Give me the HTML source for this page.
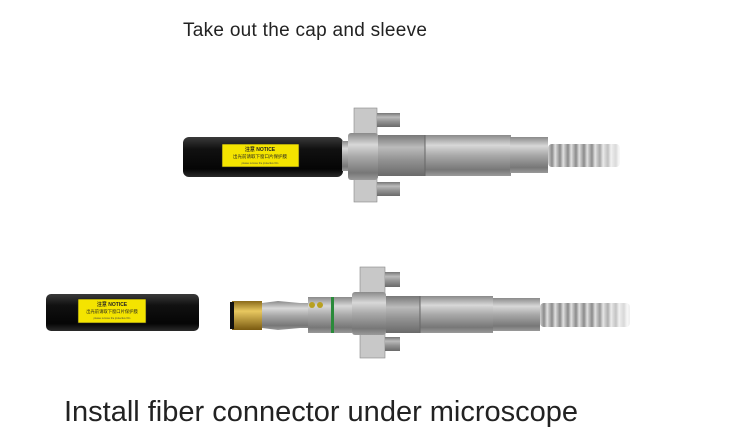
<!DOCTYPE html>
<html><head><meta charset="utf-8"><style>
html,body{margin:0;padding:0;background:#fff;}
svg{display:block;}
text{font-family:"Liberation Sans","Noto Sans CJK SC",sans-serif;}
</style></head><body>
<svg width="735" height="438" viewBox="0 0 735 438">
<defs>
<linearGradient id="blk" x1="0" y1="0" x2="0" y2="1">
<stop offset="0" stop-color="#3a3a3a"/><stop offset="0.3" stop-color="#111"/><stop offset="0.8" stop-color="#050505"/><stop offset="1" stop-color="#2a2a2a"/></linearGradient>
<linearGradient id="met" x1="0" y1="0" x2="0" y2="1">
<stop offset="0" stop-color="#8a8a8a"/><stop offset="0.25" stop-color="#d8d8d8"/><stop offset="0.5" stop-color="#a9a9a9"/><stop offset="0.85" stop-color="#777"/><stop offset="1" stop-color="#9a9a9a"/></linearGradient>
<linearGradient id="met2" x1="0" y1="0" x2="0" y2="1">
<stop offset="0" stop-color="#777"/><stop offset="0.3" stop-color="#bbb"/><stop offset="0.6" stop-color="#939393"/><stop offset="1" stop-color="#6a6a6a"/></linearGradient>
<linearGradient id="gold" x1="0" y1="0" x2="0" y2="1">
<stop offset="0" stop-color="#8a6a1a"/><stop offset="0.35" stop-color="#e8c860"/><stop offset="1" stop-color="#7a5a10"/></linearGradient>
<linearGradient id="coil" x1="0" y1="0" x2="1" y2="0">
<stop offset="0" stop-color="#8a8a8a"/><stop offset="0.4" stop-color="#e0e0e0"/><stop offset="1" stop-color="#8a8a8a"/></linearGradient>
<pattern id="hose" width="8" height="30" patternUnits="userSpaceOnUse">
<rect width="8" height="30" fill="url(#coil)"/></pattern>
<linearGradient id="fade" x1="0" y1="0" x2="1" y2="0">
<stop offset="0.6" stop-color="#fff" stop-opacity="0"/><stop offset="1" stop-color="#fff" stop-opacity="0.8"/></linearGradient>
</defs>

<text x="183" y="36" font-size="19" fill="#222" textLength="244">Take out the cap and sleeve</text>

<!-- TOP ASSEMBLY -->
<rect x="548" y="144" width="72" height="23" rx="4" fill="url(#hose)"/>
<rect x="548" y="144" width="72" height="23" fill="url(#fade)"/>
<rect x="183" y="137" width="160" height="40" rx="6" fill="url(#blk)"/>
<rect x="222" y="144" width="77" height="23" fill="#f4e400" stroke="#222" stroke-width="0.6"/>
<text x="260" y="151" font-size="5" text-anchor="middle" fill="#222" font-weight="bold">注意 NOTICE</text>
<text x="260" y="158" font-size="4.5" text-anchor="middle" fill="#222">出光前请取下窗口片保护膜</text>
<text x="260" y="164" font-size="2.5" text-anchor="middle" fill="#444">please remove the protective film</text>
<rect x="342" y="141" width="8" height="30" fill="url(#met)"/>
<rect x="354" y="108" width="23" height="28" fill="#c8c8c8" stroke="#888" stroke-width="0.6"/>
<rect x="377" y="113" width="23" height="14" fill="url(#met2)"/>
<rect x="354" y="175" width="23" height="27" fill="#c8c8c8" stroke="#888" stroke-width="0.6"/>
<rect x="377" y="182" width="23" height="14" fill="url(#met2)"/>
<rect x="348" y="133" width="30" height="47" rx="3" fill="url(#met)"/>
<rect x="378" y="135" width="47" height="41" fill="url(#met2)"/>
<rect x="425" y="135" width="86" height="41" fill="url(#met)"/>
<rect x="510" y="137" width="38" height="36" fill="url(#met)"/>
<line x1="425" y1="135" x2="425" y2="176" stroke="#666"/>

<!-- BOTTOM ASSEMBLY -->
<rect x="46" y="294" width="153" height="37" rx="5" fill="url(#blk)"/>
<rect x="78" y="299" width="68" height="24" fill="#f4e400" stroke="#222" stroke-width="0.6"/>
<text x="112" y="306" font-size="5" text-anchor="middle" fill="#222" font-weight="bold">注意 NOTICE</text>
<text x="112" y="313" font-size="4.3" text-anchor="middle" fill="#222">出光前请取下窗口片保护膜</text>
<text x="112" y="319" font-size="2.5" text-anchor="middle" fill="#444">please remove the protective film</text>

<rect x="540" y="303" width="90" height="24" rx="4" fill="url(#hose)"/>
<rect x="540" y="303" width="90" height="24" fill="url(#fade)"/>
<rect x="232" y="301" width="30" height="29" fill="url(#gold)"/>
<rect x="230" y="302" width="4" height="27" fill="#111"/>
<polygon points="262,303 278,301 300,303 352,303 352,328 300,328 278,330 262,328" fill="url(#met)"/>
<rect x="308" y="297" width="44" height="36" fill="url(#met)"/>
<circle cx="312" cy="305" r="3" fill="#b8a020"/><circle cx="320" cy="305" r="3" fill="#b8a020"/>
<rect x="331" y="297" width="3" height="36" fill="#2a8a3a"/>
<rect x="360" y="267" width="25" height="27" fill="#c8c8c8" stroke="#888" stroke-width="0.6"/>
<rect x="385" y="272" width="15" height="15" fill="url(#met2)"/>
<rect x="360" y="332" width="25" height="26" fill="#c8c8c8" stroke="#888" stroke-width="0.6"/>
<rect x="385" y="337" width="15" height="14" fill="url(#met2)"/>
<rect x="352" y="292" width="34" height="43" rx="3" fill="url(#met)"/>
<rect x="386" y="296" width="34" height="37" fill="url(#met2)"/>
<rect x="420" y="296" width="73" height="37" fill="url(#met)"/>
<line x1="420" y1="296" x2="420" y2="333" stroke="#666"/>
<rect x="493" y="298" width="47" height="33" fill="url(#met)"/>

<text x="64" y="421" font-size="29" fill="#222" textLength="514">Install fiber connector under microscope</text>
</svg>
</body></html>
